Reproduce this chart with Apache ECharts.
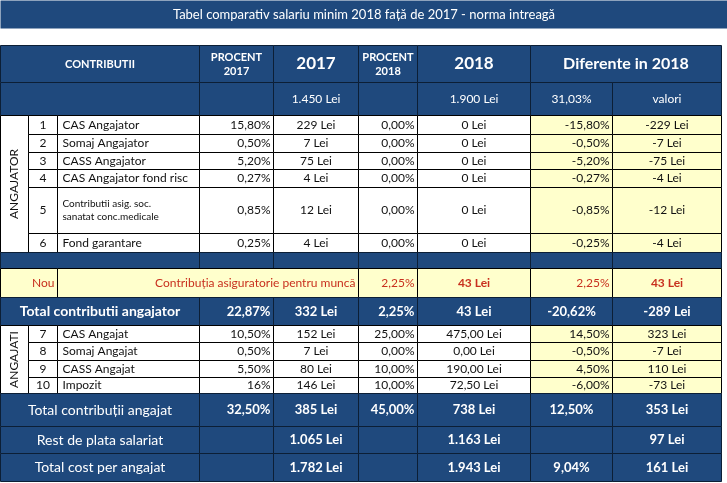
<!DOCTYPE html>
<html>
<head>
<meta charset="utf-8">
<script src="https://cdn.jsdelivr.net/npm/echarts@6/dist/echarts.min.js"></script>
<style>
  html, body { margin: 0; padding: 0; background: #fff; }
  #tabel { width: 727px; height: 483px; }
</style>
</head>
<body>
<div id="tabel"></div>
<script>
var titlu = 'Tabel comparativ salariu minim 2018 față de 2017 - norma intreagă';

var nrAngajator = ['1', '2', '3', '4', '5', '6'];
var numeAngajator = ['CAS Angajator', 'Somaj Angajator', 'CASS Angajator', 'CAS Angajator fond risc',
    'Contributii asig. soc.\nsanatat conc.medicale', 'Fond garantare'];
var proc2017Angajator = ['15,80%', '0,50%', '5,20%', '0,27%', '0,85%', '0,25%'];
var lei2017Angajator = ['229 Lei', '7 Lei', '75 Lei', '4 Lei', '12 Lei', '4 Lei'];
var proc2018Angajator = ['0,00%', '0,00%', '0,00%', '0,00%', '0,00%', '0,00%'];
var lei2018Angajator = ['0 Lei', '0 Lei', '0 Lei', '0 Lei', '0 Lei', '0 Lei'];
var difProcAngajator = ['-15,80%', '-0,50%', '-5,20%', '-0,27%', '-0,85%', '-0,25%'];
var difLeiAngajator = ['-229 Lei', '-7 Lei', '-75 Lei', '-4 Lei', '-12 Lei', '-4 Lei'];

var nrAngajat = ['7', '8', '9', '10'];
var numeAngajat = ['CAS Angajat', 'Somaj Angajat', 'CASS Angajat', 'Impozit'];
var proc2017Angajat = ['10,50%', '0,50%', '5,50%', '16%'];
var lei2017Angajat = ['152 Lei', '7 Lei', '80 Lei', '146 Lei'];
var proc2018Angajat = ['25,00%', '0,00%', '10,00%', '10,00%'];
var lei2018Angajat = ['475,00 Lei', '0,00 Lei', '190,00 Lei', '72,50 Lei'];
var difProcAngajat = ['14,50%', '-0,50%', '4,50%', '-6,00%'];
var difLeiAngajat = ['323 Lei', '-7 Lei', '110 Lei', '-73 Lei'];

var salariuBrut = ['1.450 Lei', '1.900 Lei', '31,03%', 'valori'];
var randNou = ['Nou', 'Contribuția asiguratorie pentru muncă', '2,25%', '43 Lei', '2,25%', '43 Lei'];
var totalAngajator = ['Total contributii angajator', '22,87%', '332 Lei', '2,25%', '43 Lei', '-20,62%', '-289 Lei'];
var totalAngajat = ['Total contribuții angajat', '32,50%', '385 Lei', '45,00%', '738 Lei', '12,50%', '353 Lei'];
var restPlata = ['Rest de plata salariat', '', '1.065 Lei', '', '1.163 Lei', '', '97 Lei'];
var costTotal = ['Total cost per angajat', '', '1.782 Lei', '', '1.943 Lei', '9,04%', '161 Lei'];

// grila tabelului (margini de coloane si randuri)
var colX = [0, 28, 57, 199, 273, 358, 417, 530, 612, 721, 727];
var rowY = [0, 28, 45, 82, 115, 134, 152, 169, 187, 233, 252, 268, 297, 325, 342, 360, 377, 393, 426, 453, 481];

var BLUE = '#1f497d', EDGE = '#0c1f36', YEL = '#ffffcc', RED = '#c8301e';
var FONT = 'Lato, "Open Sans", sans-serif';

var celule = [];
function celula(c0, c1, r0, r1, text, st) {
    var o = { c0: c0, c1: c1, r0: r0, r1: r1, text: text };
    for (var k in st) o[k] = st[k];
    celule.push(o);
}
function stil(base, extra) {
    var o = {};
    for (var k in base) o[k] = base[k];
    for (var j in extra) o[j] = extra[j];
    return o;
}

var sHead = { bg: BLUE, fg: '#fff', border: EDGE, size: 11, weight: 'bold', align: 'center' };
var sBody = { bg: '#fff', fg: '#111', border: '#000', size: 12, weight: 'normal', align: 'center' };
var sYel = stil(sBody, { bg: YEL });
var sNou = { bg: YEL, fg: RED, border: '#000', size: 12, weight: 'normal', align: 'right' };
var sTot = { bg: BLUE, fg: '#fff', border: EDGE, size: 13, weight: 'bold', align: 'center' };

// titlu
celula(0, 10, 0, 1, titlu, { bg: BLUE, fg: '#fff', size: 13, weight: 'normal', align: 'center' });

// cap de tabel
celula(0, 3, 2, 3, 'CONTRIBUTII', sHead);
celula(3, 4, 2, 3, 'PROCENT\n2017', sHead);
celula(4, 5, 2, 3, '2017', stil(sHead, { size: 17 }));
celula(5, 6, 2, 3, 'PROCENT\n2018', sHead);
celula(6, 7, 2, 3, '2018', stil(sHead, { size: 17 }));
celula(7, 9, 2, 3, 'Diferente in 2018', stil(sHead, { size: 16 }));
celula(0, 3, 3, 4, '', sHead);
celula(3, 4, 3, 4, '', sHead);
celula(4, 5, 3, 4, salariuBrut[0], stil(sHead, { size: 12, weight: 'normal' }));
celula(5, 6, 3, 4, '', sHead);
celula(6, 7, 3, 4, salariuBrut[1], stil(sHead, { size: 12, weight: 'normal' }));
celula(7, 8, 3, 4, salariuBrut[2], stil(sHead, { size: 12, weight: 'normal' }));
celula(8, 9, 3, 4, salariuBrut[3], stil(sHead, { size: 12, weight: 'normal' }));

function randuri(r0, nr, nume, p17, l17, p18, l18, dp, dl) {
    for (var i = 0; i < nr.length; i++) {
        var r = r0 + i;
        var mic = nume[i].indexOf('\n') >= 0;
        celula(1, 2, r, r + 1, nr[i], sBody);
        celula(2, 3, r, r + 1, nume[i], stil(sBody, { align: 'left', size: mic ? 10 : 12 }));
        celula(3, 4, r, r + 1, p17[i], stil(sBody, { align: 'right' }));
        celula(4, 5, r, r + 1, l17[i], sBody);
        celula(5, 6, r, r + 1, p18[i], stil(sBody, { align: 'right' }));
        celula(6, 7, r, r + 1, l18[i], sBody);
        celula(7, 8, r, r + 1, dp[i], stil(sYel, { align: 'right' }));
        celula(8, 9, r, r + 1, dl[i], sYel);
    }
}

// angajator
celula(0, 1, 4, 10, 'ANGAJATOR', stil(sBody, { rot: true }));
randuri(4, nrAngajator, numeAngajator, proc2017Angajator, lei2017Angajator,
    proc2018Angajator, lei2018Angajator, difProcAngajator, difLeiAngajator);

// banda albastra
[[0, 3], [3, 4], [4, 5], [5, 6], [6, 7], [7, 8], [8, 9]].forEach(function (c) {
    celula(c[0], c[1], 10, 11, '', sHead);
});

// rand nou
celula(0, 2, 11, 12, randNou[0], sNou);
celula(2, 5, 11, 12, randNou[1], sNou);
celula(5, 6, 11, 12, randNou[2], sNou);
celula(6, 7, 11, 12, randNou[3], stil(sNou, { align: 'center', weight: 'bold' }));
celula(7, 8, 11, 12, randNou[4], sNou);
celula(8, 9, 11, 12, randNou[5], stil(sNou, { align: 'center', weight: 'bold' }));

function total(r, vals, stLabel, stVal) {
    var cols = [[0, 3], [3, 4], [4, 5], [5, 6], [6, 7], [7, 8], [8, 9]];
    var al = ['center', 'right', 'center', 'right', 'center', 'center', 'center'];
    for (var i = 0; i < cols.length; i++) {
        celula(cols[i][0], cols[i][1], r, r + 1, vals[i], stil(i === 0 ? stLabel : stVal, { align: al[i] }));
    }
}

total(12, totalAngajator, stil(sTot, { size: 14 }), sTot);

// angajat
celula(0, 1, 13, 17, 'ANGAJATI', stil(sBody, { rot: true }));
randuri(13, nrAngajat, numeAngajat, proc2017Angajat, lei2017Angajat,
    proc2018Angajat, lei2018Angajat, difProcAngajat, difLeiAngajat);

var sJosLabel = stil(sTot, { size: 14, weight: 'normal' });
var sJosVal = stil(sTot, { size: 13, weight: 'bold' });
total(17, totalAngajat, sJosLabel, sJosVal);
total(18, restPlata, sJosLabel, sJosVal);
total(19, costTotal, sJosLabel, sJosVal);

var date = celule.map(function (c) {
    return [colX[c.c0], colX[c.c1], rowY[c.r0], rowY[c.r1]];
});

var chart = echarts.init(document.getElementById('tabel'));
chart.setOption({
    animation: false,
    grid: { left: 0, right: 0, top: 0, bottom: 0 },
    xAxis: { type: 'value', min: 0, max: 727, show: false },
    yAxis: { type: 'value', min: 0, max: 483, inverse: true, show: false },
    series: [{
        type: 'custom',
        data: date,
        encode: { x: [0, 1], y: [2, 3] },
        renderItem: function (params, api) {
            var c = celule[params.dataIndex];
            var p0 = api.coord([api.value(0), api.value(2)]);
            var p1 = api.coord([api.value(1), api.value(3)]);
            var x = Math.round(p0[0]) + 0.5, y = Math.round(p0[1]) + 0.5;
            var w = Math.round(p1[0]) - Math.round(p0[0]);
            var h = Math.round(p1[1]) - Math.round(p0[1]);
            var kids = [{
                type: 'rect',
                shape: { x: x, y: y, width: w, height: h },
                style: { fill: c.bg, stroke: c.border || null, lineWidth: c.border ? 1 : 0 }
            }];
            if (c.text) {
                var tx = c.align === 'left' ? x + 5 : c.align === 'right' ? x + w - 3 : x + w / 2;
                kids.push({
                    type: 'text',
                    x: c.rot ? x + w / 2 : tx,
                    y: y + h / 2,
                    rotation: c.rot ? Math.PI / 2 : 0,
                    style: {
                        text: c.text,
                        fill: c.fg,
                        font: c.weight + ' ' + c.size + 'px ' + FONT,
                        align: c.rot ? 'center' : c.align,
                        verticalAlign: 'middle',
                        lineHeight: Math.round(c.size * 1.3)
                    }
                });
            }
            return { type: 'group', children: kids };
        }
    }]
});
</script>
</body>
</html>
